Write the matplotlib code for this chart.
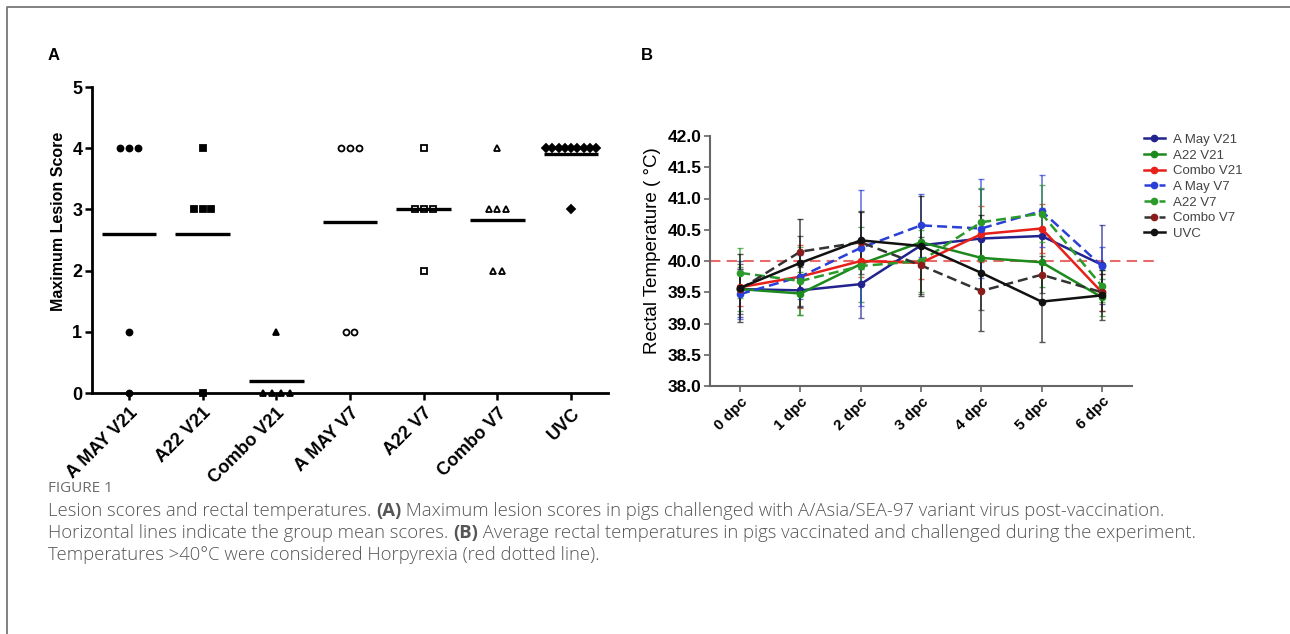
import numpy as np
import matplotlib.pyplot as plt
from matplotlib.lines import Line2D

# ---- panel A data: maximum lesion score per pig ----
groups = ['A MAY V21', 'A22 V21', 'Combo V21', 'A MAY V7', 'A22 V7', 'Combo V7', 'UVC']
scores_amay_v21 = [4, 4, 4, 1, 0]
scores_a22_v21 = [4, 3, 3, 3, 0]
scores_combo_v21 = [1, 0, 0, 0, 0]
scores_amay_v7 = [4, 4, 4, 1, 1]
scores_a22_v7 = [4, 3, 3, 3, 2]
scores_combo_v7 = [4, 3, 3, 3, 2, 2]
scores_uvc = [4, 4, 4, 4, 4, 4, 4, 4, 4, 3]

# ---- panel B data: mean rectal temperature and SD ----
days = ['0 dpc', '1 dpc', '2 dpc', '3 dpc', '4 dpc', '5 dpc', '6 dpc']
series_names = ['A May V21', 'A22 V21', 'Combo V21', 'A May V7', 'A22 V7', 'Combo V7', 'UVC']
temp_amay_v21 = [39.55, 39.53, 39.63, 40.25, 40.36, 40.40, 39.94]
temp_a22_v21 = [39.55, 39.48, 39.95, 40.30, 40.05, 39.98, 39.42]
temp_combo_v21 = [39.58, 39.75, 40.00, 39.97, 40.43, 40.52, 39.50]
temp_amay_v7 = [39.47, 39.75, 40.21, 40.57, 40.52, 40.80, 39.92]
temp_a22_v7 = [39.81, 39.68, 39.92, 40.00, 40.62, 40.76, 39.60]
temp_combo_v7 = [39.55, 40.15, 40.30, 39.93, 39.52, 39.78, 39.50]
temp_uvc = [39.57, 39.97, 40.33, 40.24, 39.81, 39.35, 39.45]
sd_amay_v21 = [0.45, 0.25, 0.55, 0.35, 0.80, 0.45, 0.63]
sd_a22_v21 = [0.35, 0.35, 0.60, 0.30, 0.50, 0.40, 0.30]
sd_combo_v21 = [0.30, 0.50, 0.25, 0.25, 0.45, 0.40, 0.30]
sd_amay_v7 = [0.40, 0.35, 0.93, 0.50, 0.80, 0.58, 0.30]
sd_a22_v7 = [0.40, 0.55, 0.30, 0.50, 0.55, 0.45, 0.25]
sd_combo_v7 = [0.40, 0.25, 0.50, 0.45, 0.30, 0.30, 0.30]
sd_uvc = [0.55, 0.70, 0.45, 0.80, 0.93, 0.65, 0.40]
fever_threshold = 40.0

W, H = 1290, 634
fig = plt.figure(figsize=(W / 100, H / 100), dpi=100)
plt.rcParams['font.family'] = ['Liberation Sans', 'DejaVu Sans']

# outer frame of the figure box
fig.add_artist(Line2D([7 / W, 7 / W, 1], [0, 1 - 7 / H, 1 - 7 / H],
                      transform=fig.transFigure, color='#777777', lw=1.3))

# ================= panel A =================
axA = fig.add_axes([92 / W, 1 - 393 / H, 516 / W, 306 / H])
all_scores = [scores_amay_v21, scores_a22_v21, scores_combo_v21, scores_amay_v7,
              scores_a22_v7, scores_combo_v7, scores_uvc]
markers = ['o', 's', '^', 'o', 's', '^', 'D']
filled = [True, True, True, False, False, False, True]
msizes = [4.3, 4.3, 4.3, 4.3, 4.3, 4.3, 3.6]
for i, sc in enumerate(all_scores):
    sc = np.array(sc)
    for v in np.unique(sc):
        n = np.sum(sc == v)
        step = 0.085 if n > 5 else 0.12
        xs = i + (np.arange(n) - (n - 1) / 2) * step
        axA.plot(xs, [v] * n, linestyle='none', marker=markers[i], ms=msizes[i],
                 mfc='black' if filled[i] else 'white', mec='black', mew=1.3,
                 clip_on=False, zorder=3)
    axA.hlines(sc.mean(), i - 0.37, i + 0.37, color='black', lw=2.4, zorder=4)

axA.set_xlim(-0.5, 6.5)
axA.set_ylim(0, 5)
axA.set_yticks(range(6))
axA.set_xticks(range(len(groups)))
axA.set_xticklabels(groups, rotation=45, ha='right', rotation_mode='anchor',
                    fontsize=13, fontweight='bold')
for lab in axA.get_yticklabels():
    lab.set_fontweight('bold')
axA.tick_params(axis='y', labelsize=13, width=1.8, length=5, pad=2)
axA.tick_params(axis='x', width=1.8, length=5)
axA.spines['top'].set_visible(False)
axA.spines['right'].set_visible(False)
for s in ['left', 'bottom']:
    axA.spines[s].set_linewidth(2)
axA.set_ylabel('Maximum Lesion Score', fontsize=11.5, fontweight='bold')
axA.yaxis.set_label_coords(-0.05, 0.56)
fig.text(48 / W, 1 - 55 / H, 'A', fontsize=12, fontweight='bold', va='center')

# ================= panel B =================
axB = fig.add_axes([710 / W, 1 - 386 / H, 422 / W, 250 / H])
x = np.arange(len(days))
temps = [temp_amay_v21, temp_a22_v21, temp_combo_v21, temp_amay_v7,
         temp_a22_v7, temp_combo_v7, temp_uvc]
sds = [sd_amay_v21, sd_a22_v21, sd_combo_v21, sd_amay_v7, sd_a22_v7, sd_combo_v7, sd_uvc]
line_colors = ['#23238f', '#1c8a1c', '#e8201a', '#2a3fd6', '#2a9a2a', '#333333', '#111111']
marker_colors = ['#23238f', '#1c8a1c', '#e8201a', '#2a3fd6', '#2a9a2a', '#8a1c1c', '#111111']
styles = ['-', '-', '-', '--', '--', '--', '-']
handles = []
for t, e, lc, mc, ls, name in zip(temps, sds, line_colors, marker_colors, styles, series_names):
    axB.errorbar(x, t, yerr=e, fmt='none', ecolor=lc, elinewidth=1.2, capsize=2,
                 alpha=0.7, zorder=2)
    h, = axB.plot(x, t, linestyle=ls, color=lc, lw=1.8, marker='o', ms=4.5,
                  mfc=mc, mec=mc, dashes=(4, 2) if ls == '--' else (None, None),
                  label=name, zorder=3)
    handles.append(h)
axB.hlines(fever_threshold, -0.5, 6.95, colors='#e86a6a', linestyles=(0, (5, 3)),
           lw=1.5, clip_on=False, zorder=1)

axB.set_xlim(-0.5, 6.5)
axB.set_ylim(38, 42)
axB.set_yticks(np.arange(38, 42.01, 0.5))
axB.set_yticklabels([f'{v:.1f}' for v in np.arange(38, 42.01, 0.5)],
                    fontsize=12.5, fontweight='bold')
axB.set_xticks(x)
axB.set_xticklabels(days, rotation=45, ha='right', rotation_mode='anchor',
                    fontsize=11, fontweight='bold')
axB.tick_params(width=1.2, length=4, color='#666666', pad=2)
axB.spines['top'].set_visible(False)
axB.spines['right'].set_visible(False)
for s in ['left', 'bottom']:
    axB.spines[s].set_linewidth(1.5)
    axB.spines[s].set_color('#666666')
axB.set_ylabel('Rectal Temperature ( °C)', fontsize=13.5)
axB.yaxis.set_label_coords(-0.115, 0.54)
fig.text(641 / W, 1 - 55 / H, 'B', fontsize=12, fontweight='bold', va='center')

fig.legend(handles=handles, loc='upper left', bbox_to_anchor=(1132 / W, 1 - 122 / H),
           frameon=False, fontsize=9.5, labelspacing=0.26, handlelength=1.6,
           handletextpad=0.6, labelcolor='#444444')

# ================= caption =================
renderer = fig.canvas.get_renderer()
cap_font = ['Open Sans', 'DejaVu Sans']


def rich_line(x0, y0, parts):
    xx = x0
    for s, bold in parts:
        t = fig.text(xx, y0, s, fontsize=13.3, family=cap_font,
                     weight='bold' if bold else 'light', color='#555555', va='baseline')
        xx += t.get_window_extent(renderer=renderer).width / W


fig.text(48 / W, 1 - 492 / H, 'FIGURE 1', fontsize=11, family=cap_font,
         color='#6b6b6b', va='baseline')
rich_line(48 / W, 1 - 516 / H, [('Lesion scores and rectal temperatures. ', False), ('(A)', True),
          (' Maximum lesion scores in pigs challenged with A/Asia/SEA-97 variant virus post-vaccination.', False)])
rich_line(48 / W, 1 - 538 / H, [('Horizontal lines indicate the group mean scores. ', False), ('(B)', True),
          (' Average rectal temperatures in pigs vaccinated and challenged during the experiment.', False)])
rich_line(48 / W, 1 - 560 / H, [('Temperatures >40°C were considered Horpyrexia (red dotted line).', False)])

fig.savefig('out.png', dpi=100)
